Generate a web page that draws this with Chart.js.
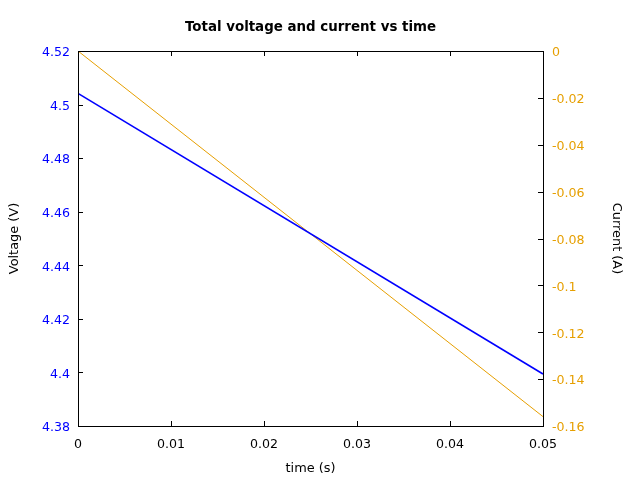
<!DOCTYPE html>
<html>
<head>
<meta charset="utf-8">
<script src="https://cdn.jsdelivr.net/npm/chart.js@4"></script>
<style>
  html, body { margin: 0; padding: 0; background: #fff; }
  #wrap { width: 640px; height: 480px; }
</style>
</head>
<body>
<div id="wrap"><canvas id="chart" width="640" height="480"></canvas></div>
<script>
// values
const timeS = [0, 0.05];
const voltageV = [4.5042, 4.3994];
const currentA = [0, -0.156];

const xTicks = [0, 0.01, 0.02, 0.03, 0.04, 0.05];
const voltTicks = [4.38, 4.4, 4.42, 4.44, 4.46, 4.48, 4.5, 4.52];
const currTicks = [-0.16, -0.14, -0.12, -0.1, -0.08, -0.06, -0.04, -0.02, 0];

const BLUE = '#0000ff';
const ORANGE = '#e69f00';
const FONT = 'DejaVu Sans';
const TICK_SIZE = 12.6;
const LABEL_SIZE = 12.9;

const fmt = v => String(parseFloat(Number(v).toFixed(4)));

// nudge the y tick labels down a little, like the reference
function shiftLabels(scale, dy) {
  if (scale._shifted) return;
  const orig = scale.drawLabels.bind(scale);
  scale.drawLabels = area => {
    scale.ctx.save();
    scale.ctx.translate(0, dy);
    orig(area);
    scale.ctx.restore();
  };
  scale._shifted = true;
}

// gnuplot-like frame with inward tick marks
const framePlugin = {
  id: 'frame',
  afterDatasetsDraw(chart) {
    const { ctx, chartArea: a, scales } = chart;
    const len = 5;
    ctx.save();
    ctx.strokeStyle = '#000';
    ctx.lineWidth = 1;
    ctx.beginPath();
    scales.x.ticks.forEach(t => {
      const px = Math.round(scales.x.getPixelForValue(t.value)) + 0.5;
      ctx.moveTo(px, a.bottom); ctx.lineTo(px, a.bottom - len);
      ctx.moveTo(px, a.top); ctx.lineTo(px, a.top + len);
    });
    scales.y.ticks.forEach(t => {
      const py = Math.round(scales.y.getPixelForValue(t.value)) + 0.5;
      ctx.moveTo(a.left, py); ctx.lineTo(a.left + len, py);
    });
    scales.y1.ticks.forEach(t => {
      const py = Math.round(scales.y1.getPixelForValue(t.value)) + 0.5;
      ctx.moveTo(a.right, py); ctx.lineTo(a.right - len, py);
    });
    ctx.stroke();
    ctx.strokeRect(Math.round(a.left) + 0.5, Math.round(a.top) + 0.5,
      Math.round(a.right - a.left), Math.round(a.bottom - a.top));
    ctx.restore();
  }
};

new Chart(document.getElementById('chart'), {
  type: 'line',
  data: {
    datasets: [
      {
        label: 'Voltage',
        data: timeS.map((t, i) => ({ x: t, y: voltageV[i] })),
        borderColor: BLUE,
        borderWidth: 1.6,
        pointRadius: 0,
        yAxisID: 'y'
      },
      {
        label: 'Current',
        data: timeS.map((t, i) => ({ x: t, y: currentA[i] })),
        borderColor: ORANGE,
        borderWidth: 1,
        pointRadius: 0,
        yAxisID: 'y1'
      }
    ]
  },
  options: {
    responsive: false,
    animation: false,
    layout: { padding: 0 },
    plugins: {
      legend: { display: false },
      tooltip: { enabled: false },
      title: {
        display: true,
        text: 'Total voltage and current vs time',
        fullSize: false,
        color: '#000',
        font: { family: FONT, size: 13.4, weight: 'bold', lineHeight: 1.2 },
        padding: { top: 19, bottom: 15.92 }
      }
    },
    scales: {
      x: {
        type: 'linear',
        min: 0, max: 0.05,
        afterBuildTicks: s => { s.ticks = xTicks.map(v => ({ value: v })); },
        afterFit: s => { s.height = 54; },
        grid: { display: false, drawTicks: false },
        border: { display: false },
        ticks: { color: '#000', padding: 11, maxRotation: 0, font: { family: FONT, size: TICK_SIZE }, callback: fmt },
        title: { display: true, text: 'time (s)', color: '#000', font: { family: FONT, size: LABEL_SIZE }, padding: { top: 0, bottom: 3.5 } }
      },
      y: {
        position: 'left',
        min: 4.38, max: 4.52,
        afterBuildTicks: s => { s.ticks = voltTicks.map(v => ({ value: v })); },
        afterFit: s => { s.width = 78; shiftLabels(s, 2); },
        grid: { display: false, drawTicks: false },
        border: { display: false },
        ticks: { color: BLUE, padding: 8, font: { family: FONT, size: TICK_SIZE }, callback: fmt },
        title: { display: true, text: 'Voltage (V)', color: '#000', font: { family: FONT, size: LABEL_SIZE }, padding: { top: 6.5, bottom: 0 } }
      },
      y1: {
        position: 'right',
        min: -0.16, max: 0,
        afterBuildTicks: s => { s.ticks = currTicks.map(v => ({ value: v })); },
        afterFit: s => { s.width = 97; shiftLabels(s, 2); },
        grid: { display: false, drawTicks: false },
        border: { display: false },
        ticks: { color: ORANGE, padding: 9, font: { family: FONT, size: TICK_SIZE }, callback: fmt },
        title: { display: true, text: 'Current (A)', color: '#000', font: { family: FONT, size: LABEL_SIZE }, padding: { top: 15.5, bottom: 0 } }
      }
    }
  },
  plugins: [framePlugin]
});
</script>
</body>
</html>
